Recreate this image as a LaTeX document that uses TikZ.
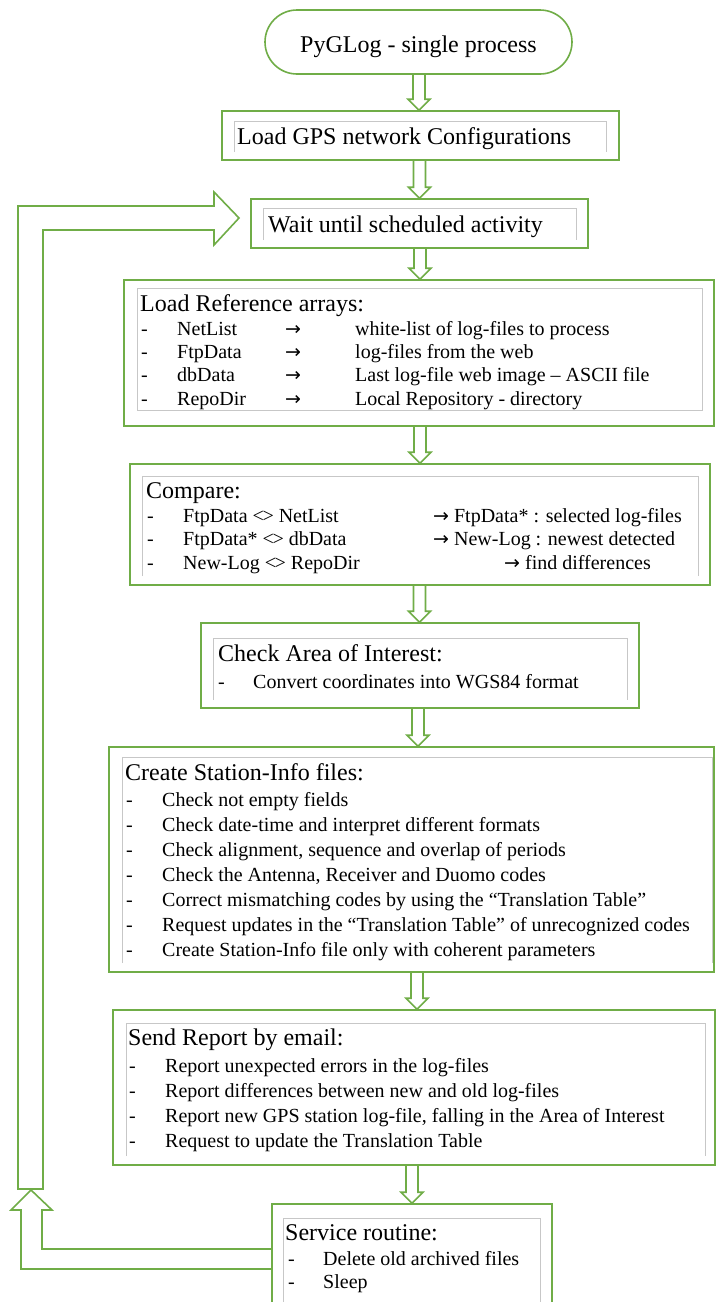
\documentclass[tikz,border=0pt]{standalone}
\usepackage{fontspec}
\setmainfont{Liberation Serif}
\newfontfamily\arrowfont{DejaVu Sans}
\usetikzlibrary{calc,shapes.misc}
\definecolor{flowgreen}{HTML}{70AD47}
\newcommand{\rowfont}{\fontsize{20}{24}\selectfont}
\newcommand{\headfont}{\fontsize{24}{28}\selectfont}
\newcommand{\cmpop}{<\kern-0.07em>}
\newcommand{\rarr}{{\arrowfont\fontsize{19}{24}\selectfont →}}
% hollow block arrow from one box down to the next, at a given x
\newcommand{\flowarrow}[3]{%
  \path (#1.south -| #3,0) coordinate (fa-s) (#2.north -| #3,0) coordinate (fa-e);
  \draw[blockarrow] ($(fa-s)+(-6,0)$) -- ($(fa-e)+(-6,-11)$) -- ($(fa-e)+(-11,-11)$) -- (fa-e)
    -- ($(fa-e)+(11,-11)$) -- ($(fa-e)+(6,-11)$) -- ($(fa-s)+(6,0)$);}
\begin{document}
\begin{tikzpicture}[x=1pt,y=-1pt,
  flowbox/.style={draw=flowgreen,line width=1.6pt,inner sep=0pt},
  innerframe/.style={draw=black!22,line width=0.8pt},
  blockarrow/.style={draw=flowgreen,line width=1.6pt,line join=miter},
  headtxt/.style={anchor=base west,inner sep=0pt,font=\headfont},
  rowtxt/.style={anchor=base west,inner sep=0pt,font=\rowfont}]
\useasboundingbox (0,0) rectangle (716,1302);
\clip (0,0) rectangle (716,1302);
\fill[white] (0,0) rectangle (716,1302);
% boxes
\node[flowbox,rounded rectangle,minimum width=307,minimum height=64] (start) at (418.5,42) {};
\node[flowbox,minimum width=397,minimum height=49] (loadcfg) at (420.5,135.5) {};
\node[flowbox,minimum width=337,minimum height=49] (wait) at (419.5,223.5) {};
\node[flowbox,minimum width=590,minimum height=146] (loadref) at (419,353) {};
\node[flowbox,minimum width=580,minimum height=121] (compare) at (420,524.5) {};
\node[flowbox,minimum width=438,minimum height=85] (area) at (420,665.5) {};
\node[flowbox,minimum width=605,minimum height=225] (station) at (411.5,859.5) {};
\node[flowbox,minimum width=602,minimum height=155] (report) at (414,1087.5) {};
\node[flowbox,minimum width=280,minimum height=120] (service) at (412,1264) {};
% thin text frames
\draw[innerframe] (234,152) -- (234,121) -- (606,121) -- (606,152);
\draw[innerframe] (263,240) -- (263,208) -- (576,208) -- (576,240);
\draw[innerframe] (137,288) rectangle (702,410);
\draw[innerframe] (142,576) -- (142,476) -- (698,476) -- (698,576);
\draw[innerframe] (213,700) -- (213,638) -- (627,638) -- (627,700);
\draw[innerframe] (122,963) -- (122,757) -- (712,757) -- (712,963);
\draw[innerframe] (126,1156) -- (126,1023) -- (705,1023) -- (705,1156);
\draw[innerframe] (283,1310) -- (283,1218) -- (540,1218) -- (540,1310);
% texts
\node[anchor=base,inner sep=0pt,font=\headfont] (start-t) at (418.5,52) {PyGLog - single process};
\node[headtxt] (loadcfg-t) at (237,144) {Load GPS network Configurations};
\node[headtxt] (wait-t) at (268,232) {Wait until scheduled activity};
\node[headtxt] (loadref-t) at (140,311) {Load Reference arrays:};
\foreach \i/\nm/\ds in {0/NetList/white-list of log-files to process,1/FtpData/log-files from the web,
  2/dbData/Last log-file web image – ASCII file,3/RepoDir/Local Repository - directory}{
  \node[rowtxt] (ref-d\i) at (141,335+23.4*\i) {-};
  \node[rowtxt] (ref-n\i) at (177,335+23.4*\i) {\nm};
  \node[rowtxt] (ref-a\i) at (285,335+23.4*\i) {\rarr};
  \node[rowtxt] (ref-s\i) at (355,335+23.4*\i) {\ds};}
\node[headtxt] (compare-t) at (146,498) {Compare:};
\foreach \i/\nm/\rx/\ds in {0/FtpData \cmpop{} NetList/433/FtpData* : selected log-files,
  1/FtpData* \cmpop{} dbData/433/New-Log : newest detected,2/New-Log \cmpop{} RepoDir/504/find differences}{
  \node[rowtxt] (cmp-d\i) at (147,522+23.5*\i) {-};
  \node[rowtxt] (cmp-n\i) at (183,522+23.5*\i) {\nm};
  \node[rowtxt] (cmp-s\i) at (\rx,522+23.5*\i) {\rarr\ \ds};}
\node[headtxt] (area-t) at (218,661) {Check Area of Interest:};
\node[rowtxt] (area-d0) at (218,688) {-};
\node[rowtxt] (area-s0) at (253,688) {Convert coordinates into WGS84 format};
\node[headtxt] (station-t) at (125,780) {Create Station-Info files:};
\foreach \i/\ds in {0/Check not empty fields,1/Check date-time and interpret different formats,
  2/{Check alignment, sequence and overlap of periods},3/{Check the Antenna, Receiver and Duomo codes},
  4/Correct mismatching codes by using the “Translation Table”,
  5/Request updates in the “Translation Table” of unrecognized codes,
  6/Create Station-Info file only with coherent parameters}{
  \node[rowtxt] (sta-d\i) at (126,806+25.1*\i) {-};
  \node[rowtxt] (sta-s\i) at (162,806+25.1*\i) {\ds};}
\node[headtxt] (report-t) at (128,1045) {Send Report by email:};
\foreach \i/\ds in {0/Report unexpected errors in the log-files,1/Report differences between new and old log-files,
  2/{Report new GPS station log-file, falling in the Area of Interest},3/Request to update the Translation Table}{
  \node[rowtxt] (rep-d\i) at (129,1072+25*\i) {-};
  \node[rowtxt] (rep-s\i) at (165,1072+25*\i) {\ds};}
\node[headtxt] (service-t) at (285,1240) {Service routine:};
\foreach \i/\ds in {0/Delete old archived files,1/Sleep}{
  \node[rowtxt] (srv-d\i) at (288,1265+23*\i) {-};
  \node[rowtxt] (srv-s\i) at (323,1265+23*\i) {\ds};}
% flow arrows
\flowarrow{start}{loadcfg}{419}
\flowarrow{loadcfg}{wait}{419.5}
\flowarrow{wait}{loadref}{420}
\flowarrow{loadref}{compare}{420}
\flowarrow{compare}{area}{419.5}
\flowarrow{area}{station}{418}
\flowarrow{station}{report}{417}
\flowarrow{report}{service}{412}
% loop back to the scheduler
\coordinate (loopbase) at (31,1190);
\coordinate (looptip) at (239,218);
\draw[blockarrow] (service.west |- 0,1269) -- (21,1269) -- (21,1210) -- (11,1210) -- (loopbase)
  -- (52,1210) -- (42,1210) -- (42,1249) -- (service.west |- 0,1249);
\draw[blockarrow] (18,1189) -- (18,206) -- (214,206) -- (214,192) -- (looptip) -- (214,245)
  -- (214,230) -- (43,230) -- (43,1189) -- cycle;
\end{tikzpicture}
\end{document}
